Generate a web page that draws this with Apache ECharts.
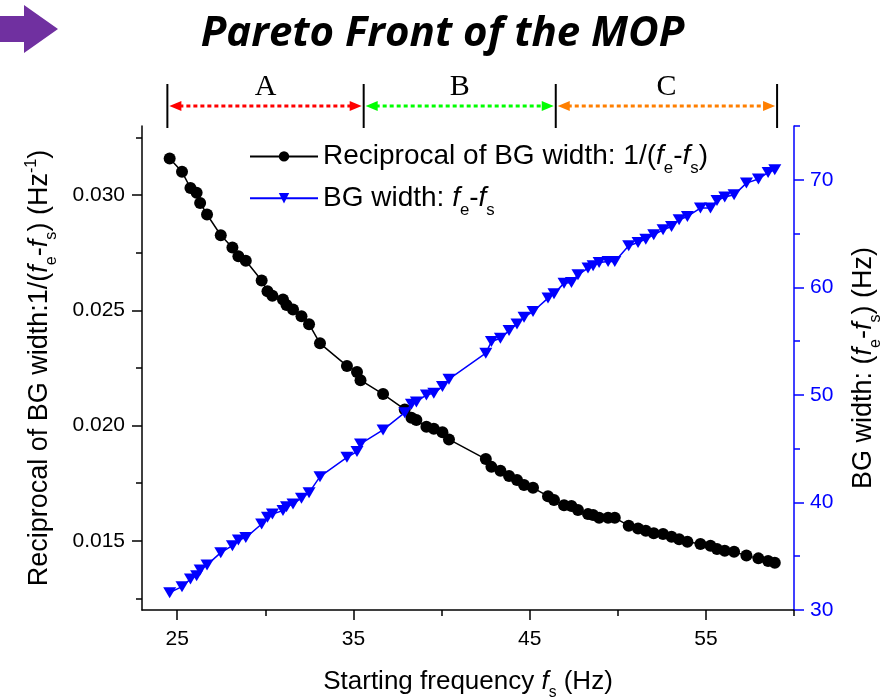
<!DOCTYPE html>
<html>
<head>
<meta charset="utf-8">
<title>Pareto Front of the MOP</title>
<script src="https://cdn.jsdelivr.net/npm/echarts@6/dist/echarts.min.js"></script>
<style>
  html, body { margin: 0; padding: 0; background: #fff; }
  #main { width: 885px; height: 698px; }
</style>
</head>
<body>
<div id="main"></div>
<script>
// starting frequency fs (Hz)
var fs = [24.57, 25.27, 25.75, 26.10, 26.30, 26.69, 27.47, 28.13, 28.47, 28.89,
          29.79, 30.12, 30.40, 31.00, 31.20, 31.57, 32.05, 32.48, 33.10, 34.63,
          35.20, 35.40, 36.68, 37.91, 38.29, 38.57, 39.14, 39.56, 40.05, 40.42,
          42.51, 42.83, 43.34, 43.83, 44.28, 44.68, 45.19, 46.04, 46.38, 46.95,
          47.37, 47.74, 48.31, 48.60, 48.94, 49.45, 49.83, 50.62, 51.15, 51.59,
          52.04, 52.57, 53.05, 53.48, 53.95, 54.69, 55.26, 55.63, 56.07, 56.60,
          57.30, 57.98, 58.53, 58.91];
// 1/(fe-fs)
var reciprocal = [0.03159, 0.03101, 0.03031, 0.03010, 0.02966, 0.02916, 0.02826, 0.02773, 0.02735, 0.02715,
                  0.02630, 0.02583, 0.02563, 0.02547, 0.02523, 0.02504, 0.02475, 0.02440, 0.02357, 0.02259,
                  0.02233, 0.02197, 0.02137, 0.02070, 0.02034, 0.02024, 0.01995, 0.01986, 0.01971, 0.01940,
                  0.01855, 0.01821, 0.01804, 0.01781, 0.01764, 0.01742, 0.01730, 0.01694, 0.01677, 0.01655,
                  0.01651, 0.01634, 0.01616, 0.01612, 0.01600, 0.01600, 0.01600, 0.01566, 0.01554, 0.01544,
                  0.01533, 0.01530, 0.01518, 0.01507, 0.01496, 0.01486, 0.01479, 0.01465, 0.01457, 0.01453,
                  0.01436, 0.01424, 0.01413, 0.01405];
// fe-fs (Hz)
var bgWidth = [31.61, 32.17, 32.88, 33.19, 33.72, 34.19, 35.33, 35.98, 36.51, 36.73,
               38.00, 38.62, 38.93, 39.24, 39.61, 39.86, 40.39, 40.91, 42.40, 44.20,
               44.73, 45.44, 46.74, 48.35, 49.13, 49.35, 50.00, 50.16, 50.77, 51.46,
               53.88, 54.96, 55.27, 55.98, 56.60, 57.23, 57.75, 59.00, 59.40, 60.39,
               60.45, 61.16, 61.79, 62.00, 62.31, 62.40, 62.40, 63.86, 64.17, 64.48,
               64.88, 65.35, 65.66, 66.28, 66.59, 67.37, 67.37, 68.07, 68.39, 68.60,
               69.69, 70.07, 70.68, 70.93];

var xMajor = [25, 35, 45, 55];
var xMinor = [30, 40, 50, 60];
var leftMajor = [0.015, 0.020, 0.025, 0.030];
var leftMinor = [0.0125, 0.0175, 0.0225, 0.0275, 0.0325];
var rightMajor = [30, 40, 50, 60, 70];
var rightMinor = [35, 45, 55, 65, 75];

// regions A / B / C along fs
var regionBounds = [24.44, 35.58, 46.48, 59.04];
var regionNames = ['A', 'B', 'C'];
var regionColors = ['#ff0000', '#00ff00', '#ff7f00'];

var FONT = 'Liberation Sans';
var BLUE = '#0000ff';

// rich styles for f_e, f_s, Hz^-1
function richFor(size, color) {
  return {
    i: { fontStyle: 'italic', fontSize: size, fontFamily: FONT, color: color, lineHeight: size * 1.2 },
    sub: { fontSize: size * 0.6, fontFamily: FONT, color: color, lineHeight: size * 0.7, padding: [size * 0.85, 0, 0, 0] },
    sup: { fontSize: size * 0.6, fontFamily: FONT, color: color, lineHeight: size * 0.7, padding: [0, 0, size * 0.6, 0] }
  };
}

function pairs(ys) {
  var out = [];
  for (var i = 0; i < fs.length; i++) out.push([fs[i], ys[i]]);
  return out;
}

var chart = echarts.init(document.getElementById('main'));

var tickLen = 10, minorLen = 6;

chart.setOption({
  animation: false,
  title: {
    text: 'Pareto Front of the MOP',
    left: 'center',
    top: 8,
    textStyle: { fontFamily: 'Open Sans', fontWeight: 'bold', fontStyle: 'italic', fontSize: 42, color: '#000' }
  },
  grid: { left: 142, top: 126, right: 91, bottom: 88, containLabel: false, outerBoundsMode: 'none' },
  legend: {
    orient: 'vertical',
    left: 244,
    top: 131,
    itemWidth: 68,
    itemHeight: 13,
    itemGap: 1,
    data: ['recip', 'width'],
    textStyle: { fontFamily: FONT, fontSize: 28, color: '#000', lineHeight: 34, rich: richFor(28, '#000') },
    formatter: function (name) {
      if (name === 'recip') return 'Reciprocal of BG width: 1/({i|f}{sub|e}-{i|f}{sub|s})';
      return 'BG width: {i|f}{sub|e}-{i|f}{sub|s}';
    }
  },
  xAxis: [{
    type: 'value', min: 23, max: 60, position: 'bottom',
    name: 'Starting frequency {i|f}{sub|s} (Hz)',
    nameLocation: 'middle', nameGap: 56,
    nameTextStyle: { fontFamily: FONT, fontSize: 26, color: '#000', lineHeight: 31, rich: richFor(26, '#000') },
    axisLine: { onZero: false, lineStyle: { color: '#000', width: 1.5 } },
    axisTick: { inside: false, length: tickLen, customValues: xMajor, lineStyle: { color: '#000', width: 1.5 } },
    axisLabel: { customValues: xMajor, fontFamily: FONT, fontSize: 21, color: '#000', margin: 19 },
    splitLine: { show: false }
  }, {
    type: 'value', min: 23, max: 60, position: 'bottom',
    axisLine: { show: false },
    axisTick: { length: minorLen, customValues: xMinor, lineStyle: { color: '#000', width: 1.5 } },
    axisLabel: { show: false },
    splitLine: { show: false }
  }],
  yAxis: [{
    type: 'value', min: 0.012, max: 0.033, position: 'left',
    name: 'Reciprocal of BG width:1/({i|f}{sub|e}-{i|f}{sub|s}) (Hz{sup|-1})',
    nameLocation: 'middle', nameRotate: 90, nameGap: 86,
    nameTextStyle: { fontFamily: FONT, fontSize: 27, color: '#000', lineHeight: 32, rich: richFor(27, '#000') },
    axisLine: { show: true, onZero: false, lineStyle: { color: '#000', width: 1.5 } },
    axisTick: { show: true, length: tickLen, customValues: leftMajor, lineStyle: { color: '#000', width: 1.5 } },
    axisLabel: {
      customValues: leftMajor, fontFamily: FONT, fontSize: 21, color: '#000', margin: 17,
      formatter: function (v) { return v.toFixed(3); }
    },
    splitLine: { show: false }
  }, {
    type: 'value', min: 30, max: 75, position: 'right',
    name: 'BG width: ({i|f}{sub|e}-{i|f}{sub|s}) (Hz)',
    nameLocation: 'middle', nameRotate: 90, nameGap: 46,
    nameTextStyle: { fontFamily: FONT, fontSize: 27, color: '#000', lineHeight: 32, rich: richFor(27, '#000') },
    axisLine: { show: true, onZero: false, lineStyle: { color: BLUE, width: 1.5 } },
    axisTick: { show: true, length: tickLen, customValues: rightMajor, lineStyle: { color: BLUE, width: 1.5 } },
    axisLabel: { customValues: rightMajor, fontFamily: FONT, fontSize: 21, color: BLUE, margin: 16 },
    splitLine: { show: false }
  }, {
    type: 'value', min: 0.012, max: 0.033, position: 'left',
    axisLine: { show: false },
    axisTick: { show: true, length: minorLen, customValues: leftMinor, lineStyle: { color: '#000', width: 1.5 } },
    axisLabel: { show: false },
    splitLine: { show: false }
  }, {
    type: 'value', min: 30, max: 75, position: 'right',
    axisLine: { show: false },
    axisTick: { show: true, length: minorLen, customValues: rightMinor, lineStyle: { color: BLUE, width: 1.5 } },
    axisLabel: { show: false },
    splitLine: { show: false }
  }],
  series: [{
    name: 'recip',
    type: 'line',
    xAxisIndex: 0,
    yAxisIndex: 0,
    data: pairs(reciprocal),
    symbol: 'circle',
    symbolSize: 12,
    itemStyle: { color: '#000' },
    lineStyle: { color: '#000', width: 1.5 },
    z: 2
  }, {
    name: 'width',
    type: 'line',
    xAxisIndex: 0,
    yAxisIndex: 1,
    data: pairs(bgWidth),
    symbol: 'triangle',
    symbolRotate: 180,
    symbolSize: [13, 11],
    itemStyle: { color: BLUE },
    lineStyle: { color: BLUE, width: 1.5 },
    z: 3
  }]
});

// region markers above the plot, placed through the x axis scale
function drawRegions() {
  var px = regionBounds.map(function (v) { return chart.convertToPixel({ xAxisIndex: 0 }, v); });
  var els = [];
  var top = 84, bottom = 128, ay = 106, head = 12, hw = 5;
  px.forEach(function (x) {
    els.push({ type: 'line', shape: { x1: x, y1: top, x2: x, y2: bottom }, style: { stroke: '#000', lineWidth: 2 } });
  });
  for (var i = 0; i < regionNames.length; i++) {
    var a = px[i] + 2, b = px[i + 1] - 2, c = regionColors[i];
    els.push({ type: 'line', shape: { x1: a + head - 2, y1: ay, x2: b - head + 2, y2: ay },
      style: { stroke: c, lineWidth: 3, lineDash: [4, 3] } });
    els.push({ type: 'polygon', shape: { points: [[a, ay], [a + head, ay - hw], [a + head, ay + hw]] }, style: { fill: c } });
    els.push({ type: 'polygon', shape: { points: [[b, ay], [b - head, ay - hw], [b - head, ay + hw]] }, style: { fill: c } });
    els.push({ type: 'text', x: (px[i] + px[i + 1]) / 2, y: 87,
      style: { text: regionNames[i], fontFamily: 'Liberation Serif', fontSize: 30, fill: '#000', align: 'center', verticalAlign: 'middle' } });
  }
  // purple arrow at the top-left corner
  els.push({ type: 'polygon', shape: { points: [[0, 16], [24, 16], [24, 5], [58, 29], [24, 53], [24, 42], [0, 42]] },
    style: { fill: '#7030a0' } });
  chart.setOption({ graphic: els });
}
drawRegions();
</script>
</body>
</html>
